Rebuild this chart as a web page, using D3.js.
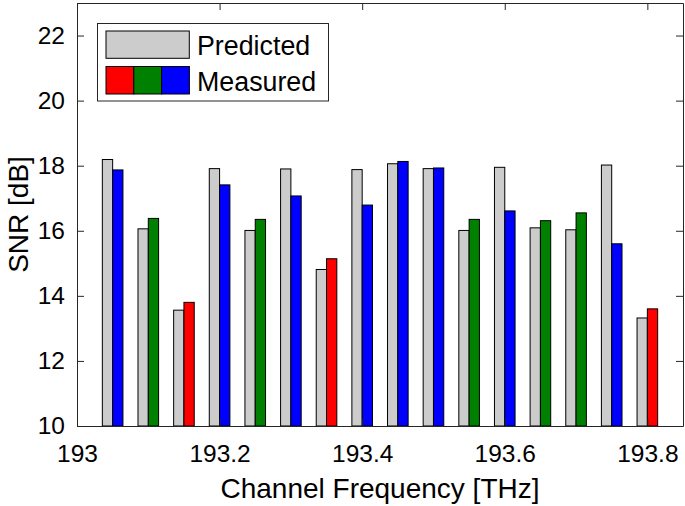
<!DOCTYPE html>
<html>
<head>
<meta charset="utf-8">
<script src="https://cdn.jsdelivr.net/npm/d3@7"></script>
<style>
  html, body { margin: 0; padding: 0; background: #ffffff; }
  svg { display: block; font-family: "Liberation Sans", Arial, Helvetica, sans-serif; }
</style>
</head>
<body>
<script>
// 信道频率 (THz)
const channels = [193.05, 193.10, 193.15, 193.20, 193.25, 193.30, 193.35, 193.40,
                  193.45, 193.50, 193.55, 193.60, 193.65, 193.70, 193.75, 193.80];
// 预测 SNR (dB)
const predicted = [18.19, 16.06, 13.56, 17.91, 16.01, 17.90, 14.81, 17.88,
                   18.06, 17.91, 16.01, 17.95, 16.09, 16.03, 18.02, 13.32];
// 实测 SNR (dB)
const measured = [17.87, 16.38, 13.80, 17.41, 16.35, 17.07, 15.14, 16.79,
                  18.13, 17.93, 16.35, 16.61, 16.31, 16.55, 15.60, 13.60];
// 实测柱的颜色分组
const measuredGroup = ['b', 'g', 'r', 'b', 'g', 'b', 'r', 'b',
                       'b', 'b', 'g', 'b', 'g', 'g', 'b', 'r'];
const xTicks = [193, 193.2, 193.4, 193.6, 193.8];
const xTickLabels = ['193', '193.2', '193.4', '193.6', '193.8'];
const yTicks = [10, 12, 14, 16, 18, 20, 22];
const legendLabels = ['Predicted', 'Measured'];

const svgWidth = 685, svgHeight = 506;
const margin = {left: 77, right: 2, top: 3, bottom: 80};
const axisColor = '#262626';
const groupColor = {r: '#ff0000', g: '#008000', b: '#0000ff'};
const predictedColor = '#cccccc';

const svg = d3.select('body')
    .append('svg')
    .attr('width', svgWidth)
    .attr('height', svgHeight);

const x = d3.scaleLinear()
    .domain([193, 193.85])
    .range([margin.left, svgWidth - margin.right]);
const y = d3.scaleLinear()
    .domain([10, 23])
    .range([svgHeight - margin.bottom, margin.top]);

const barW = 10.3;

// 柱子
const bars = svg.append('g').attr('class', 'bars');
bars.selectAll('rect.pred')
    .data(channels)
    .enter()
    .append('rect')
    .attr('class', 'pred')
    .attr('x', d => x(d) - barW)
    .attr('y', (d, i) => y(predicted[i]))
    .attr('width', barW)
    .attr('height', (d, i) => y(10) - y(predicted[i]))
    .attr('fill', predictedColor)
    .attr('stroke', '#000')
    .attr('stroke-width', 1);
bars.selectAll('rect.meas')
    .data(channels)
    .enter()
    .append('rect')
    .attr('class', 'meas')
    .attr('x', d => x(d))
    .attr('y', (d, i) => y(measured[i]))
    .attr('width', barW)
    .attr('height', (d, i) => y(10) - y(measured[i]))
    .attr('fill', (d, i) => groupColor[measuredGroup[i]])
    .attr('stroke', '#000')
    .attr('stroke-width', 1);

// 坐标轴
const tickLen = 7;
const xAxis = d3.axisBottom(x)
    .tickValues(xTicks)
    .tickFormat((d, i) => xTickLabels[i])
    .tickSizeInner(-tickLen)
    .tickSizeOuter(0)
    .tickPadding(19);
const yAxis = d3.axisLeft(y)
    .tickValues(yTicks)
    .tickSizeInner(-tickLen)
    .tickSizeOuter(0)
    .tickPadding(12);

const gx = svg.append('g')
    .attr('transform', `translate(0,${y(10)})`)
    .call(xAxis);
const gy = svg.append('g')
    .attr('transform', `translate(${x(193)},0)`)
    .call(yAxis);
const gxTop = svg.append('g')
    .attr('transform', `translate(0,${y(23)})`)
    .call(d3.axisTop(x).tickValues(xTicks).tickFormat('').tickSizeInner(-tickLen).tickSizeOuter(0));
const gyRight = svg.append('g')
    .attr('transform', `translate(${x(193.85)},0)`)
    .call(d3.axisRight(y).tickValues(yTicks).tickFormat('').tickSizeInner(-tickLen).tickSizeOuter(0));

[gx, gy, gxTop, gyRight].forEach(g => {
    g.selectAll('path, line').attr('stroke', axisColor).attr('stroke-width', 1);
    g.selectAll('text')
        .attr('fill', '#000')
        .style('font-size', '24.5px')
        .style('font-family', '"Liberation Sans", Arial, Helvetica, sans-serif');
});

// 轴标题
svg.append('text')
    .attr('x', (x.range()[0] + x.range()[1]) / 2)
    .attr('y', 498)
    .attr('text-anchor', 'middle')
    .style('font-size', '28px')
    .text('Channel Frequency [THz]');
svg.append('text')
    .attr('transform', `translate(28,${(y.range()[0] + y.range()[1]) / 2}) rotate(-90)`)
    .attr('text-anchor', 'middle')
    .style('font-size', '28px')
    .text('SNR [dB]');

// 图例
const legend = svg.append('g').attr('class', 'legend');
legend.append('rect')
    .attr('x', 97.5).attr('y', 23.5)
    .attr('width', 231).attr('height', 77.5)
    .attr('fill', '#fff')
    .attr('stroke', axisColor)
    .attr('stroke-width', 1);
legend.append('rect')
    .attr('x', 106).attr('y', 31)
    .attr('width', 83.3).attr('height', 27.3)
    .attr('fill', predictedColor)
    .attr('stroke', '#000');
['r', 'g', 'b'].forEach((k, i) => {
    legend.append('rect')
        .attr('x', 106 + i * 27.8).attr('y', 66.5)
        .attr('width', 27.8).attr('height', 27.5)
        .attr('fill', groupColor[k])
        .attr('stroke', '#000');
});
legend.selectAll('text')
    .data(legendLabels)
    .enter()
    .append('text')
    .attr('x', 197)
    .attr('y', (d, i) => i === 0 ? 55 : 91)
    .style('font-size', '26.8px')
    .text(d => d);
</script>
</body>
</html>
